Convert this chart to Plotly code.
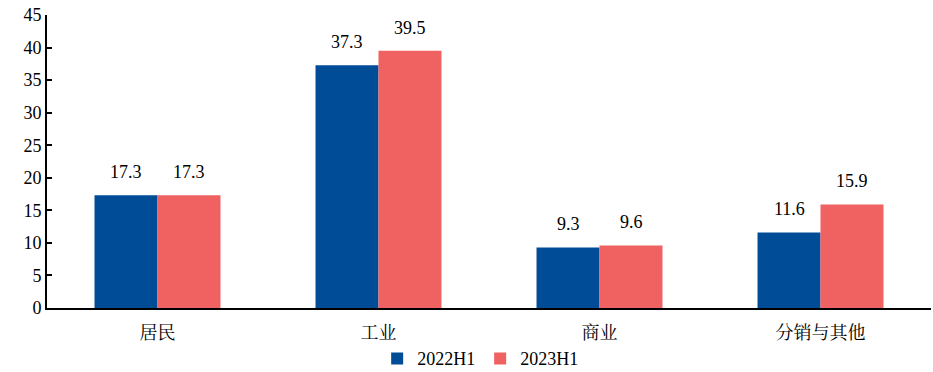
import plotly.graph_objects as go

categories = ["居民", "工业", "商业", "分销与其他"]
series_names = ["2022H1", "2023H1"]
values_2022 = [17.3, 37.3, 9.3, 11.6]
values_2023 = [17.3, 39.5, 9.6, 15.9]
y_ticks = [0, 5, 10, 15, 20, 25, 30, 35, 40, 45]

colors = ["#004C97", "#F06162"]
num_font = "Liberation Serif"
cjk_font = "Noto Serif CJK SC, Noto Sans CJK SC"

fig = go.Figure()
for name, vals, col in zip(series_names, [values_2022, values_2023], colors):
    fig.add_trace(go.Bar(x=categories, y=vals, name=name, marker=dict(color=col, line=dict(width=0))))

# value labels above each bar
for i, cat in enumerate(categories):
    for vals, shift in ((values_2022, -31.5), (values_2023, 31.5)):
        fig.add_annotation(x=cat, y=vals[i], text=f"{vals[i]:.1f}", showarrow=False,
                           xshift=shift, yshift=11, yanchor="bottom",
                           font=dict(family=num_font, size=18, color="#000"))

fig.update_layout(
    width=933, height=372,
    margin=dict(l=47, r=2, t=15, b=64, autoexpand=False),
    paper_bgcolor="white", plot_bgcolor="white",
    barmode="group", bargap=0.43, bargroupgap=0,
    showlegend=True,
    legend=dict(orientation="h", x=0.49, xanchor="center", y=-0.11, yanchor="top",
                font=dict(family=num_font, size=18, color="#000"),
                itemwidth=30, tracegroupgap=0),
    font=dict(family=num_font, size=18, color="#000"),
)
fig.update_yaxes(range=[0, 45], tickvals=y_ticks, showgrid=False, zeroline=False,
                 showline=True, linecolor="#000", linewidth=2,
                 ticks="inside", ticklen=5, tickwidth=2, tickcolor="#000",
                 tickfont=dict(family=num_font, size=18, color="#000"))
fig.update_xaxes(showgrid=False, showline=True, linecolor="#000", linewidth=2,
                 ticks="", ticklabelstandoff=7,
                 tickfont=dict(family=cjk_font, size=18, color="#000"))

fig.write_html("out.html")
